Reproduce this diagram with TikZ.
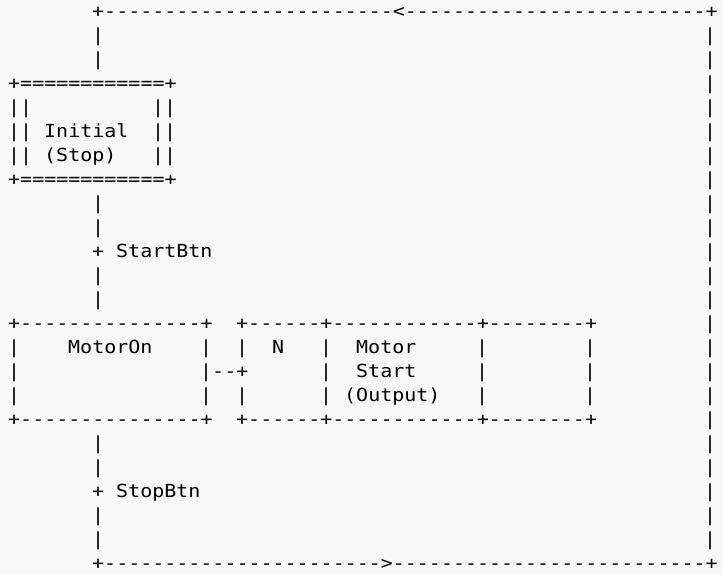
\documentclass[tikz,border=0pt]{standalone}
\usepackage{fontspec}
\setmonofont[FakeStretch=1.11]{DejaVu Sans Mono}
\definecolor{paper}{HTML}{F8F8F8}

\begin{document}
\begin{tikzpicture}[x=12pt,y=-24pt,
  ch/.style={anchor=base west,inner sep=0pt,font=\ttfamily\fontsize{18}{24}\selectfont}]
  \useasboundingbox (0,0) rectangle (60.25,23.9583);
  \fill[paper] (0,0) rectangle (60.25,23.9583);
  \begin{scope}[shift={(8pt,-17.5pt)}]
  % return line at the top and bottom
  \node[ch] (top) at (7,0) {+------------------------<-------------------------+};
  \node[ch] (bot) at (7,23) {+----------------------->--------------------------+};
  \foreach \r in {1,...,22} \node[ch] (rt\r) at (58,\r) {|};
  \foreach \r in {1,2,8,9,11,12,18,19,21,22} \node[ch] (lf\r) at (7,\r) {|};
  % initial step
  \node[ch] (initT) at (0,3) {+============+};
  \node[ch] (initB) at (0,7) {+============+};
  \foreach \r in {4,5,6} {
    \node[ch] (initL\r) at (0,\r) {||};
    \node[ch] (initR\r) at (12,\r) {||};
  }
  \node[ch] (initTxt) at (3,5) {Initial};
  \node[ch] (initSub) at (3,6) {(Stop)};
  % transitions
  \node[ch] (tr1) at (7,10) {+};
  \node[ch] (tr1Txt) at (9,10) {StartBtn};
  \node[ch] (tr2) at (7,20) {+};
  \node[ch] (tr2Txt) at (9,20) {StopBtn};
  % step MotorOn
  \node[ch] (motT) at (0,13) {+---------------+};
  \node[ch] (motB) at (0,17) {+---------------+};
  \foreach \r in {14,15,16} \node[ch] (motL\r) at (0,\r) {|};
  \node[ch] (motR14) at (16,14) {|};
  \node[ch] (motR16) at (16,16) {|};
  \node[ch] (link) at (16,15) {|--+};
  \node[ch] (motTxt) at (5,14) {MotorOn};
  % action block
  \node[ch] (actT) at (19,13) {+------+------------+--------+};
  \node[ch] (actB) at (19,17) {+------+------------+--------+};
  \node[ch] (actL14) at (19,14) {|};
  \node[ch] (actL16) at (19,16) {|};
  \foreach \r in {14,15,16} {
    \node[ch] (actA\r) at (26,\r) {|};
    \node[ch] (actB\r) at (39,\r) {|};
    \node[ch] (actC\r) at (48,\r) {|};
  }
  \node[ch] (qual) at (22,14) {N};
  \node[ch] (act1) at (29,14) {Motor};
  \node[ch] (act2) at (29,15) {Start};
  \node[ch] (act3) at (28,16) {(Output)};
  \end{scope}
\end{tikzpicture}
\end{document}
